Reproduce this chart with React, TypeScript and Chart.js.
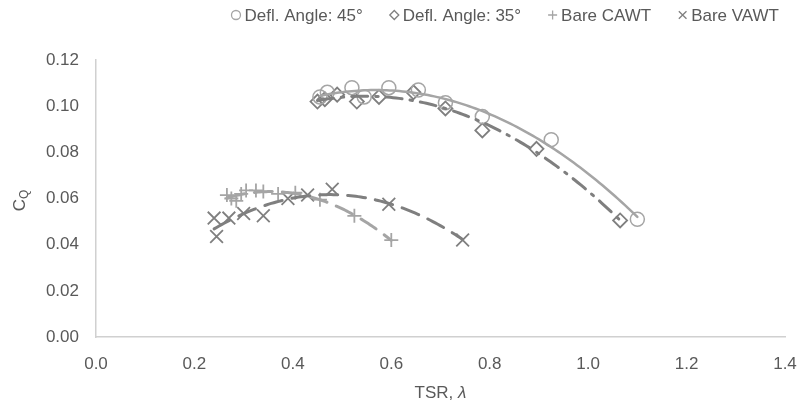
import React, { useEffect, useRef } from "react";
import { Chart, registerables } from "chart.js";

Chart.register(...registerables);

// ---- Data ----
const defl45TSR = [0.455, 0.47, 0.52, 0.545, 0.595, 0.655, 0.71, 0.785, 0.925, 1.1];
const defl45CQ = [0.104, 0.106, 0.108, 0.104, 0.108, 0.107, 0.1015, 0.0955, 0.0855, 0.051];

const defl35TSR = [0.45, 0.465, 0.49, 0.53, 0.575, 0.645, 0.71, 0.785, 0.895, 1.065];
const defl35CQ = [0.102, 0.103, 0.105, 0.102, 0.104, 0.106, 0.099, 0.0895, 0.0815, 0.0505];

const cawtTSR = [0.266, 0.275, 0.285, 0.295, 0.305, 0.325, 0.34, 0.37, 0.405, 0.455, 0.525, 0.6];
const cawtCQ = [0.0615, 0.06, 0.059, 0.062, 0.0635, 0.0635, 0.063, 0.062, 0.0625, 0.0595, 0.0525, 0.042];

const vawtTSR = [0.24, 0.245, 0.27, 0.3, 0.34, 0.39, 0.43, 0.48, 0.595, 0.745];
const vawtCQ = [0.0515, 0.0435, 0.0515, 0.0535, 0.0525, 0.06, 0.0615, 0.064, 0.0575, 0.042];

const seriesNames = ["Defl. Angle: 45°", "Defl. Angle: 35°", "Bare CAWT", "Bare VAWT"];
const xTickMin = 0;
const xTickMax = 1.4;
const xTickStep = 0.2;
const yTickMin = 0;
const yTickMax = 0.12;
const yTickStep = 0.02;

const LIGHT = "#A5A5A5";
const DARK = "#7F7F7F";
const TEXT = "#595959";
const FONT = "'Liberation Sans', Arial, sans-serif";

function polyfit(xs: number[], ys: number[], order: number): number[] {
  const n = order + 1;
  const A: number[][] = Array.from({ length: n }, () => new Array(n + 1).fill(0));
  for (let i = 0; i < xs.length; i++) {
    for (let r = 0; r < n; r++) {
      for (let c = 0; c < n; c++) A[r][c] += Math.pow(xs[i], r + c);
      A[r][n] += ys[i] * Math.pow(xs[i], r);
    }
  }
  for (let k = 0; k < n; k++) {
    let p = k;
    for (let r = k + 1; r < n; r++) if (Math.abs(A[r][k]) > Math.abs(A[p][k])) p = r;
    const t = A[k]; A[k] = A[p]; A[p] = t;
    for (let r = k + 1; r < n; r++) {
      const f = A[r][k] / A[k][k];
      for (let c = k; c <= n; c++) A[r][c] -= f * A[k][c];
    }
  }
  const coef = new Array(n).fill(0);
  for (let k = n - 1; k >= 0; k--) {
    let s = A[k][n];
    for (let c = k + 1; c < n; c++) s -= A[k][c] * coef[c];
    coef[k] = s / A[k][k];
  }
  return coef;
}

const trends = [
  { xs: defl45TSR, ys: defl45CQ, color: LIGHT, dash: [] as number[], width: 2.5 },
  { xs: defl35TSR, ys: defl35CQ, color: DARK, dash: [16, 8, 2.5, 8], width: 3 },
  { xs: cawtTSR, ys: cawtCQ, color: LIGHT, dash: [18, 10], width: 3 },
  { xs: vawtTSR, ys: vawtCQ, color: DARK, dash: [18, 10], width: 3 },
];

const trendPlugin = {
  id: "trends",
  afterDatasetsDraw(chart: any) {
    const { ctx, scales } = chart;
    const xs = scales.x, ys = scales.y;
    ctx.save();
    ctx.beginPath();
    ctx.rect(chart.chartArea.left, chart.chartArea.top, chart.chartArea.right - chart.chartArea.left, chart.chartArea.bottom - chart.chartArea.top);
    ctx.clip();
    for (const t of trends) {
      const coef = polyfit(t.xs, t.ys, 2);
      const x0 = Math.min(...t.xs), x1 = Math.max(...t.xs);
      ctx.beginPath();
      const steps = 100;
      for (let i = 0; i <= steps; i++) {
        const xv = x0 + ((x1 - x0) * i) / steps;
        let yv = 0;
        for (let k = 0; k < coef.length; k++) yv += coef[k] * Math.pow(xv, k);
        const px = xs.getPixelForValue(xv), py = ys.getPixelForValue(yv);
        if (i === 0) ctx.moveTo(px, py); else ctx.lineTo(px, py);
      }
      ctx.strokeStyle = t.color;
      ctx.lineWidth = t.width;
      ctx.lineCap = "round";
      ctx.setLineDash(t.dash);
      ctx.stroke();
    }
    ctx.restore();
  },
};

function drawMarker(ctx: CanvasRenderingContext2D, kind: string, x: number, y: number, r: number, color: string) {
  ctx.save();
  ctx.strokeStyle = color;
  ctx.lineWidth = 1.3;
  ctx.beginPath();
  if (kind === "circle") {
    ctx.arc(x, y, r, 0, Math.PI * 2);
  } else if (kind === "diamond") {
    ctx.moveTo(x, y - r); ctx.lineTo(x + r, y); ctx.lineTo(x, y + r); ctx.lineTo(x - r, y); ctx.closePath();
  } else if (kind === "plus") {
    ctx.moveTo(x - r, y); ctx.lineTo(x + r, y); ctx.moveTo(x, y - r); ctx.lineTo(x, y + r);
  } else {
    const d = r * 0.85;
    ctx.moveTo(x - d, y - d); ctx.lineTo(x + d, y + d); ctx.moveTo(x + d, y - d); ctx.lineTo(x - d, y + d);
  }
  ctx.stroke();
  ctx.restore();
}

const legendKinds = ["circle", "diamond", "plus", "cross"];
const legendColors = [LIGHT, DARK, LIGHT, DARK];

const decorPlugin = {
  id: "decor",
  afterDraw(chart: any) {
    const { ctx, chartArea } = chart;
    ctx.save();
    // legend
    ctx.font = `17px ${FONT}`;
    ctx.textBaseline = "middle";
    ctx.textAlign = "left";
    const markerW = 11, gapM = 3, gapItem = 26;
    const widths = seriesNames.map((s) => ctx.measureText(s).width);
    let total = 0;
    widths.forEach((w, i) => { total += markerW + gapM + w + (i < widths.length - 1 ? gapItem : 0); });
    let x = 779 - total;
    const ly = 15;
    seriesNames.forEach((s, i) => {
      drawMarker(ctx, legendKinds[i], x + markerW / 2, ly, 4.5, legendColors[i]);
      ctx.fillStyle = TEXT;
      ctx.fillText(s, x + markerW + gapM, ly + 1);
      x += markerW + gapM + widths[i] + gapItem;
    });
    // x title
    ctx.textAlign = "left";
    const t1 = "TSR, ";
    ctx.font = `17px ${FONT}`;
    const w1 = ctx.measureText(t1).width;
    ctx.font = `italic 17px ${FONT}`;
    const w2 = ctx.measureText("λ").width;
    const cx = (chartArea.left + chartArea.right) / 2;
    const sx = cx - (w1 + w2) / 2;
    ctx.fillStyle = TEXT;
    ctx.font = `17px ${FONT}`;
    ctx.fillText(t1, sx, 393);
    ctx.font = `italic 17px ${FONT}`;
    ctx.fillText("λ", sx + w1, 393);
    // y title
    ctx.translate(20, (chartArea.top + chartArea.bottom) / 2 + 2);
    ctx.rotate(-Math.PI / 2);
    ctx.font = `17px ${FONT}`;
    const wc = ctx.measureText("C").width;
    ctx.font = `12px ${FONT}`;
    const wq = ctx.measureText("Q").width;
    const s0 = -(wc + wq) / 2;
    ctx.font = `17px ${FONT}`;
    ctx.fillText("C", s0, 0);
    ctx.font = `12px ${FONT}`;
    ctx.fillText("Q", s0 + wc, 5);
    ctx.restore();
  },
};

export default function App() {
  const ref = useRef<HTMLCanvasElement | null>(null);
  useEffect(() => {
    document.body.style.margin = "0";
    const canvas = ref.current!;
    const mk = (xs: number[], ys: number[]) => xs.map((x, i) => ({ x, y: ys[i] }));
    const chart = new Chart(canvas, {
      type: "scatter",
      data: {
        datasets: [
          { label: seriesNames[0], data: mk(defl45TSR, defl45CQ), pointStyle: "circle", pointRadius: 7, borderColor: LIGHT, backgroundColor: "rgba(0,0,0,0)", borderWidth: 1.5 },
          { label: seriesNames[1], data: mk(defl35TSR, defl35CQ), pointStyle: "rectRot", pointRadius: 7, borderColor: DARK, backgroundColor: "rgba(0,0,0,0)", borderWidth: 1.8 },
          { label: seriesNames[2], data: mk(cawtTSR, cawtCQ), pointStyle: "cross", pointRadius: 7, borderColor: LIGHT, backgroundColor: "rgba(0,0,0,0)", borderWidth: 1.8 },
          { label: seriesNames[3], data: mk(vawtTSR, vawtCQ), pointStyle: "crossRot", pointRadius: 9, borderColor: DARK, backgroundColor: "rgba(0,0,0,0)", borderWidth: 1.8 },
        ] as any,
      },
      options: {
        responsive: false,
        animation: false,
        layout: { padding: { left: 0, right: 0, top: 60, bottom: 0 } },
        plugins: { legend: { display: false }, tooltip: { enabled: false } },
        scales: {
          x: {
            type: "linear",
            min: xTickMin,
            max: xTickMax,
            grid: { display: false, drawTicks: false },
            border: { display: true, color: "#D0D0D0", width: 1.5 },
            ticks: { stepSize: xTickStep, padding: 17, color: TEXT, font: { size: 17, family: FONT }, callback: (v: any) => Number(v).toFixed(1) },
            afterFit: (s: any) => { s.height = 66; s.paddingRight = 13; s.paddingLeft = 0; },
          },
          y: {
            type: "linear",
            min: yTickMin,
            max: yTickMax,
            grid: { display: false, drawTicks: false },
            border: { display: true, color: "#D0D0D0", width: 1.5 },
            ticks: { stepSize: yTickStep, padding: 17, color: TEXT, font: { size: 17, family: FONT }, callback: (v: any) => Number(v).toFixed(2) },
            afterFit: (s: any) => { s.width = 96; },
          },
        },
      } as any,
      plugins: [trendPlugin, decorPlugin],
    });
    return () => chart.destroy();
  }, []);
  return (
    <div style={{ width: 798, height: 403 }}>
      <canvas ref={ref} width={798} height={403} />
    </div>
  );
}
